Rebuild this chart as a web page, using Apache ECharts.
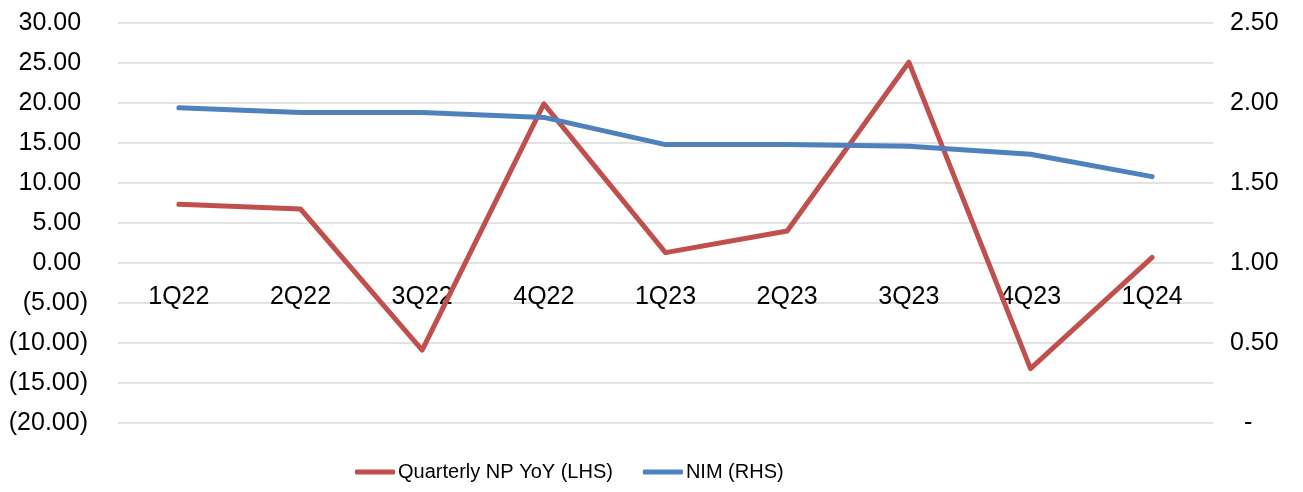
<!DOCTYPE html>
<html>
<head>
<meta charset="utf-8">
<script src="https://cdn.jsdelivr.net/npm/echarts@6/dist/echarts.min.js"></script>
<style>
  html, body { margin: 0; padding: 0; background: #fff; }
  #chart { width: 1303px; height: 492px; }
</style>
</head>
<body>
<div id="chart"></div>
<script>
// quarters on the x axis
var quarters = ["1Q22", "2Q22", "3Q22", "4Q22", "1Q23", "2Q23", "3Q23", "4Q23", "1Q24"];
// quarterly net profit YoY, % (left axis)
var npYoy = [7.34, 6.75, -10.9, 19.9, 1.3, 4.0, 25.1, -13.2, 0.7];
// net interest margin, % (right axis)
var nim = [1.97, 1.94, 1.94, 1.91, 1.74, 1.74, 1.73, 1.68, 1.54];

var font = "'Liberation Sans', Arial, sans-serif";

function lhsLabel(v) {
  if (v < 0) return "(" + Math.abs(v).toFixed(2) + ")";
  return v.toFixed(2) + " ";
}
function rhsLabel(v) {
  if (v === 0) return "  -";
  return v.toFixed(2);
}

var chart = echarts.init(document.getElementById("chart"));
chart.setOption({
  animation: false,
  textStyle: { fontFamily: font },
  grid: { left: 118, right: 90, top: 23, bottom: 69 },
  legend: {
    top: 457,
    left: 350,
    itemWidth: 40,
    itemHeight: 5,
    itemGap: 30,
    icon: "roundRect",
    textStyle: { fontFamily: font, fontSize: 20, color: "#000", padding: [0, 0, 0, -2] },
    data: ["Quarterly NP YoY (LHS)", "NIM (RHS)"]
  },
  xAxis: {
    type: "category",
    data: quarters,
    axisLine: { show: false, onZero: false },
    axisTick: { show: false },
    // labels sit just under the zero line (grid bottom is at -20, 160px lower)
    axisLabel: { color: "#000", fontSize: 25, margin: -138, interval: 0 }
  },
  yAxis: [
    {
      type: "value",
      min: -20,
      max: 30,
      interval: 5,
      axisLine: { show: false },
      axisTick: { show: false },
      axisLabel: { color: "#000", fontSize: 25, margin: 30, formatter: lhsLabel },
      splitLine: { lineStyle: { color: "#d9d9d9", width: 1.5 } }
    },
    {
      type: "value",
      min: 0,
      max: 2.5,
      interval: 0.5,
      axisLine: { show: false },
      axisTick: { show: false },
      axisLabel: { color: "#000", fontSize: 25, margin: 17, formatter: rhsLabel },
      splitLine: { show: false }
    }
  ],
  series: [
    {
      name: "Quarterly NP YoY (LHS)",
      type: "line",
      yAxisIndex: 0,
      data: npYoy,
      showSymbol: false,
      color: "#C0504D",
      lineStyle: { width: 5, color: "#C0504D", cap: "round", join: "round" }
    },
    {
      name: "NIM (RHS)",
      type: "line",
      yAxisIndex: 1,
      data: nim,
      showSymbol: false,
      color: "#4F81BD",
      lineStyle: { width: 5, color: "#4F81BD", cap: "round", join: "round" }
    }
  ]
});
</script>
</body>
</html>
